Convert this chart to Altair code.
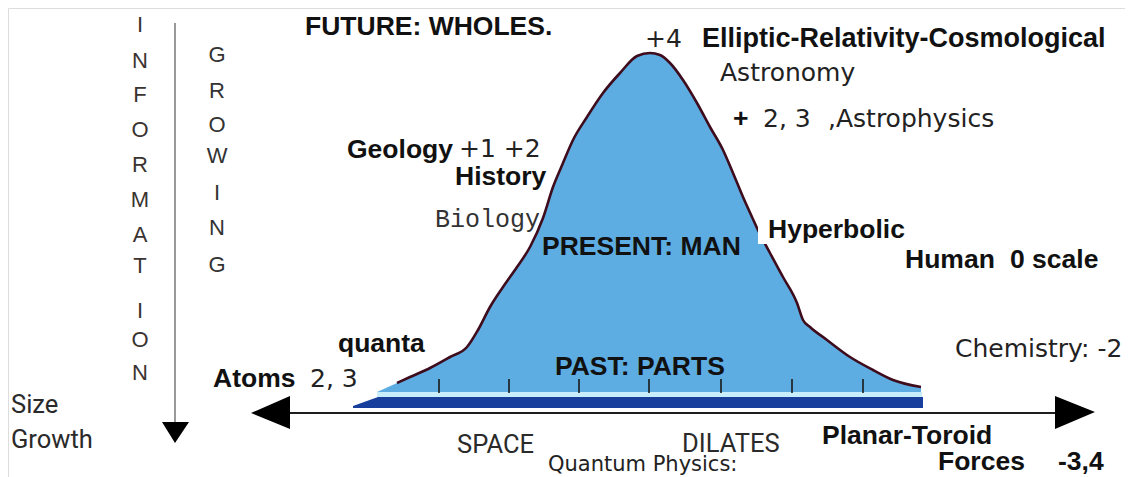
import altair as alt
import pandas as pd

# ---------------- data ----------------
# bell curve: horizontal position and vertical level (top of picture = small level)
curve_x = [377, 397, 410, 430, 450, 467, 478, 490, 503, 517, 530, 543, 553, 563, 573, 587, 603, 620, 637, 650,
           660, 670, 683, 697, 710, 723, 733, 743, 752, 757, 770, 783, 797, 803, 810, 827, 850, 873, 893, 921]
curve_y = [392, 383, 377, 368, 357, 347, 330, 307, 287, 267, 247, 218, 187, 163, 140, 117, 93, 73, 56, 53,
           55, 63, 80, 103, 127, 150, 173, 197, 217, 228, 253, 277, 303, 320, 327, 340, 357, 370, 380, 387]
curve_base = 392

strip_x = [377, 922]
strip_top = [392, 392]
strip_bottom = [397, 397]

band_x = [353, 378, 923]
band_top = [406, 397, 397]
band_bottom = [408, 408, 408]

tick_x = [439, 509, 579, 649, 721, 792, 863]
tick_top = 379
tick_bottom = 393

axis_x = [262, 1085]
axis_level = 413
left_head_x = [251, 290]
left_head_top = [413, 396]
left_head_bottom = [413, 429]
right_head_x = [1055, 1095]
right_head_top = [396, 412]
right_head_bottom = [429, 412]

vline_x = 175
vline_y = [23, 424]
down_head_y = [422, 443]
down_head_left = [162, 175]
down_head_right = [189, 175]

hyper_box_x = [758, 912]
hyper_box_y = [218, 244]

# text labels (left x, baseline level)
bold_labels = ["FUTURE: WHOLES.", "Geology", "History", "PRESENT: MAN", "Hyperbolic",
               "Human", "0 scale", "quanta", "Atoms", "PAST: PARTS", "Planar-Toroid", "Forces", "-3,4", "+"]
bold_x = [305, 347, 455, 542, 768, 905, 1010, 338, 213, 555, 822, 938, 1058, 733]
bold_y = [35, 158, 185, 255, 238, 268, 268, 352, 387, 375, 444, 470, 470, 127]

title_labels = ["Elliptic-Relativity-Cosmological"]
title_x = [702]
title_y = [47]

reg_labels = ["+4", "Astronomy", "2, 3", ",Astrophysics", "+1 +2", "2, 3", "Chemistry: -2"]
reg_x = [645, 720, 763, 828, 459, 310, 955]
reg_y = [47, 81, 127, 127, 157, 387, 357]

foot_labels = ["Quantum Physics:"]
foot_x = [548]
foot_y = [471]

mono_labels = ["Biology"]
mono_x = [435]
mono_y = [227]

side_labels = ["SPACE", "DILATES", "Size", "Growth"]
side_x = [457, 682, 11, 11]
side_y = [453, 452, 413, 448]

info_letters = list("INFORMATION")
info_y = [32, 68, 102, 137, 172, 207, 242, 273, 318, 347, 380]
info_x = 140
grow_letters = list("GROWING")
grow_y = [62, 98, 132, 163, 200, 235, 272]
grow_x = 217

# ---------------- chart ----------------
XS = alt.Scale(domain=[8, 1125], nice=False, zero=False)
YS = alt.Scale(domain=[8, 477], nice=False, zero=False, reverse=True)


def X(f="x"):
    return alt.X(f"{f}:Q", scale=XS, axis=None)


def Y(f="y"):
    return alt.Y(f"{f}:Q", scale=YS, axis=None)


curve_df = pd.DataFrame({"x": curve_x, "y": curve_y, "b": [curve_base] * len(curve_x)})

area = alt.Chart(curve_df).mark_area(color="#5eade2", interpolate="monotone").encode(
    x=X(), y=Y(), y2=alt.Y2("b:Q"))

strip = alt.Chart(pd.DataFrame({"x": strip_x, "y": strip_top, "b": strip_bottom})).mark_area(
    color="#c9eefb").encode(x=X(), y=Y(), y2=alt.Y2("b:Q"))

band = alt.Chart(pd.DataFrame({"x": band_x, "y": band_top, "b": band_bottom})).mark_area(
    color="#183f9c").encode(x=X(), y=Y(), y2=alt.Y2("b:Q"))

ticks = alt.Chart(pd.DataFrame({"x": tick_x, "y": [tick_top] * len(tick_x),
                                "b": [tick_bottom] * len(tick_x)})).mark_rule(
    color="#1a1a1a", strokeWidth=1.6).encode(x=X(), y=Y(), y2=alt.Y2("b:Q"))

outline = alt.Chart(curve_df.iloc[1:]).mark_line(
    color="#3e0c1c", strokeWidth=2.6, interpolate="monotone").encode(x=X(), y=Y())

hyper_box = alt.Chart(pd.DataFrame({"x": [hyper_box_x[0]], "x2": [hyper_box_x[1]],
                                    "y": [hyper_box_y[0]], "y2": [hyper_box_y[1]]})).mark_rect(
    color="white").encode(x=X(), x2="x2:Q", y=Y(), y2="y2:Q")

axis_line = alt.Chart(pd.DataFrame({"x": [axis_x[0]], "x2": [axis_x[1]], "y": [axis_level]})).mark_rule(
    color="#1e1e1e", strokeWidth=2).encode(x=X(), x2="x2:Q", y=Y())

left_head = alt.Chart(pd.DataFrame({"x": left_head_x, "y": left_head_top, "b": left_head_bottom})).mark_area(
    color="black").encode(x=X(), y=Y(), y2=alt.Y2("b:Q"))
right_head = alt.Chart(pd.DataFrame({"x": right_head_x, "y": right_head_top, "b": right_head_bottom})).mark_area(
    color="black").encode(x=X(), y=Y(), y2=alt.Y2("b:Q"))

vline = alt.Chart(pd.DataFrame({"x": [vline_x], "y": [vline_y[0]], "y2": [vline_y[1]]})).mark_rule(
    color="#999999", strokeWidth=2).encode(x=X(), y=Y(), y2="y2:Q")
down_head = alt.Chart(pd.DataFrame({"y": down_head_y, "x": down_head_left, "x2": down_head_right})).mark_area(
    color="black", orient="horizontal").encode(y=Y(), x=X(), x2="x2:Q")


def text_layer(labels, xs, ys, font, size, weight="normal", color="#111111", align="left"):
    df = pd.DataFrame({"x": xs, "y": ys, "t": labels})
    return alt.Chart(df).mark_text(align=align, baseline="alphabetic", font=font, fontSize=size,
                                   fontWeight=weight, color=color).encode(x=X(), y=Y(), text="t:N")


t_bold = text_layer(bold_labels, bold_x, bold_y, "Liberation Sans", 26.5, "bold")
t_title = text_layer(title_labels, title_x, title_y, "Liberation Sans", 27, "bold")
t_reg = text_layer(reg_labels, reg_x, reg_y, "DejaVu Sans", 25, color="#222222")
t_foot = text_layer(foot_labels, foot_x, foot_y, "DejaVu Sans", 21, color="#222222")
t_mono = text_layer(mono_labels, mono_x, mono_y, "Liberation Mono", 25, color="#333333")
t_side = text_layer(side_labels, side_x, side_y, "Roboto", 25.5, color="#2a2a2a")
t_info = text_layer(info_letters, [info_x] * len(info_letters), info_y, "Liberation Sans", 22,
                    color="#3a3330", align="center")
t_grow = text_layer(grow_letters, [grow_x] * len(grow_letters), grow_y, "Liberation Sans", 22,
                    color="#333333", align="center")

chart = alt.layer(
    area, strip, band, ticks, outline, hyper_box, axis_line, left_head, right_head, vline, down_head,
    t_bold, t_title, t_reg, t_foot, t_mono, t_side, t_info, t_grow
).properties(
    width=1117, height=469, padding=0,
    autosize=alt.AutoSizeParams(type="none")
).configure_view(stroke=None).configure(background="white")

chart.save("out.html", embed_options={"renderer": "svg", "actions": False})
